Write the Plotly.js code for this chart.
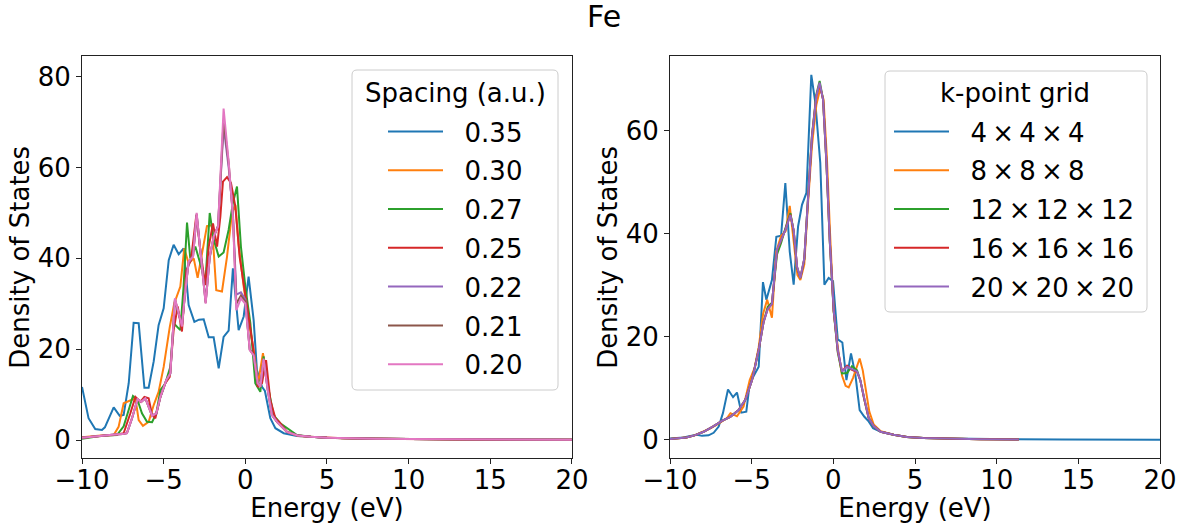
<!DOCTYPE html>
<html>
<head>
<meta charset="utf-8">
<script src="https://cdn.plot.ly/plotly-3.0.1.min.js"></script>
<style>html,body{margin:0;padding:0;background:#fff;}#chart{width:1180px;height:523px;}</style>
</head>
<body>
<div id="chart"></div>
<script>
// ---------- Left panel: grid spacing ----------
const spacingLabels = ["0.35", "0.30", "0.27", "0.25", "0.22", "0.21", "0.20"];

const E_035 = [-10,-9.6,-9.19,-8.78,-8.6,-8.06,-7.69,-7.45,-7.14,-6.84,-6.53,-6.18,-5.92,-5.61,-5.31,-5.0,-4.69,-4.39,-4.08,-3.78,-3.47,-3.12,-2.84,-2.55,-2.24,-1.94,-1.63,-1.33,-1.02,-0.76,-0.41,-0.1,0.2,0.51,0.71,1.02,1.2,1.53,1.84,2.35,3.16,4,5,6,8,10,13,16,20];
const D_035 = [11.7,4.8,2.4,2.2,2.8,7.2,5.3,5.5,12.5,25.8,25.7,11.5,11.5,17.3,25.3,29,39.6,43,40.9,42.2,29.7,26,26.5,26.6,22.6,22.6,15.8,22.7,24.1,37.8,24.2,27.2,36,26.4,15.4,11.7,10.8,4.8,2.6,1.5,0.9,0.65,0.5,0.4,0.3,0.2,0.12,0.08,0.05];

const E_030 = [-10,-9.5,-9,-8.5,-8.06,-7.76,-7.45,-7.04,-6.73,-6.53,-6.27,-5.92,-5.61,-5.31,-5.0,-4.63,-4.35,-3.98,-3.74,-3.47,-3.16,-2.92,-2.65,-2.35,-2.04,-1.78,-1.43,-1.12,-0.82,-0.61,-0.41,-0.1,0.2,0.51,0.78,1.08,1.33,1.63,1.94,2.55,3.27,4,5,6,8,10,13,16,20];
const D_030 = [0.6,0.8,1.0,1.1,1.1,2.9,8.1,8.8,9.2,4.4,3.1,4.0,7.7,10.6,16.1,24.8,30.1,33.8,42.2,38.9,40,35.7,41.1,47.1,47.3,33,32.7,40.4,49.9,51.8,43,33.8,26.4,19.8,12.5,19.1,13.2,6.6,4.0,1.8,0.9,0.7,0.5,0.4,0.3,0.2,0.12,0.08,0.05];

const E_027 = [-10,-9.5,-9,-8.5,-7.86,-7.45,-7.14,-6.88,-6.6,-6.33,-6.02,-5.71,-5.45,-5.2,-4.9,-4.59,-4.39,-4.18,-3.98,-3.78,-3.57,-3.37,-3.06,-2.76,-2.45,-2.18,-1.94,-1.63,-1.33,-1.02,-0.76,-0.51,-0.27,0.0,0.31,0.61,0.92,1.12,1.43,1.73,2.14,3.16,4,5,6,8,10,13,16,20];
const D_027 = [0.3,0.6,0.8,1.0,1.1,3.0,6.6,9.7,8.8,5.9,4.0,3.9,5.9,11,12.5,16.1,25.7,25,24.2,33.8,47.9,40,42.6,38.9,34.5,50,44.2,40.4,41.3,46.3,52.2,55.8,42.6,33.8,25.7,12.5,10.6,18.4,11,5.5,3.7,1.1,0.7,0.5,0.4,0.3,0.2,0.12,0.08,0.05];

const E_025 = [-10,-9.5,-9,-8.5,-8,-7.45,-7.04,-6.73,-6.43,-6.18,-5.92,-5.71,-5.51,-5.2,-4.9,-4.63,-4.39,-4.14,-3.88,-3.61,-3.33,-3.0,-2.76,-2.45,-2.24,-1.98,-1.73,-1.53,-1.37,-1.12,-0.88,-0.61,-0.35,-0.06,0.2,0.47,0.76,1.02,1.27,1.53,1.84,2.14,2.55,3.2,4,5,6,8,10,13,16,20];
const D_025 = [0.5,0.7,0.9,1.0,1.1,1.5,5.9,9.5,8.4,9.5,9.2,5.5,4.8,9.5,12.5,13.9,24.2,29.4,23.9,37.4,39.6,49.5,41.8,34.1,42.6,47.7,42.6,49.2,56.9,57.9,56.6,51.4,40.4,33,26.4,20.6,11.7,12.5,17.6,8.8,4.8,3.7,1.8,1.0,0.7,0.5,0.4,0.3,0.2,0.12,0.08,0.05];

const E_fine = [-10,-9.5,-9,-8.5,-8,-7.5,-7.25,-6.94,-6.6,-6.37,-6.12,-5.92,-5.71,-5.45,-5.2,-4.84,-4.59,-4.31,-4.14,-3.88,-3.67,-3.47,-3.2,-2.98,-2.76,-2.43,-2.18,-1.94,-1.67,-1.33,-1.02,-0.76,-0.55,-0.27,0.0,0.27,0.51,0.76,0.92,1.12,1.37,1.63,1.94,2.55,3.2,4,5,6,8,10,13,16,20];
const D_022 = [0.5,0.7,0.9,1.1,1.2,1.3,1.5,4.7,8.9,8.5,9.1,7.4,5.4,5.8,9.4,13.1,14.6,30.8,28.4,25.2,33.2,39.0,40.6,49.6,42.0,30.4,40.2,44.6,47.2,69.0,60.0,50.0,32.0,32.5,31.0,20.0,18.6,12.6,11.8,17.6,11.2,5.6,4.0,1.8,1.0,0.7,0.5,0.4,0.3,0.2,0.12,0.08,0.05];
const D_021 = [0.5,0.7,0.9,1.1,1.2,1.3,1.5,4.8,9.0,8.4,9.2,7.3,5.3,5.9,9.5,13.2,14.7,31.0,28.5,25.1,33.1,39.2,40.5,49.8,41.9,30.2,40.3,44.7,47.1,70.5,61.0,49.5,30.0,31.8,30.5,19.9,18.7,12.5,11.7,17.8,11.1,5.5,4.0,1.8,1.0,0.7,0.5,0.4,0.3,0.2,0.12,0.08,0.05];
const D_020 = [0.5,0.7,0.9,1.1,1.2,1.3,1.5,4.8,9.0,8.4,9.2,7.3,5.3,5.9,9.5,13.2,14.7,31.2,28.6,25,33,39.3,40.4,50,41.8,30,40.4,44.8,47,73,61.3,49.2,28.6,31.2,30,19.8,18.7,12.5,11.7,17.9,11,5.5,4.0,1.8,1.0,0.7,0.5,0.4,0.3,0.2,0.12,0.08,0.05];

// ---------- Right panel: k-point grid ----------
const kgridLabels = ["4\u2009×\u20094\u2009×\u20094", "8\u2009×\u20098\u2009×\u20098", "12\u2009×\u200912\u2009×\u200912", "16\u2009×\u200916\u2009×\u200916", "20\u2009×\u200920\u2009×\u200920"];

const E_k4 = [-10,-9.17,-8.76,-8.35,-8.04,-7.64,-7.33,-7.02,-6.76,-6.45,-6.14,-5.9,-5.63,-5.33,-5.12,-4.82,-4.57,-4.31,-4.1,-3.76,-3.49,-3.2,-2.94,-2.67,-2.43,-2.16,-1.92,-1.65,-1.35,-1.1,-0.8,-0.55,-0.29,-0.02,0.27,0.55,0.8,1.08,1.35,1.61,1.9,2.16,2.43,2.9,3.69,4.5,5.5,7,9,11,14,17,20];
const D_k4 = [0.3,0.5,0.8,1.0,0.8,0.9,1.4,2.6,5.2,9.8,8.3,9.2,5.3,5.5,11,12.9,14.2,30.6,27.2,31,39.4,39.6,49.8,36.5,30.1,41.4,45.6,47.9,70.8,65.3,53.7,30.1,31.4,30.8,19.5,18.9,11.6,16.8,12.6,5.8,4.5,3.6,2.3,1.6,1.0,0.6,0.4,0.3,0.2,0.15,0.1,0.07,0.05];

const E_k8 = [-10,-9,-8.5,-8,-7.5,-7,-6.5,-6.3,-5.9,-5.5,-5.12,-4.82,-4.57,-4.3,-4.05,-3.76,-3.5,-3.2,-2.92,-2.67,-2.43,-2.2,-2.02,-1.78,-1.57,-1.31,-1.04,-0.8,-0.6,-0.4,-0.2,0.02,0.27,0.53,0.75,0.94,1.2,1.45,1.61,1.8,2.0,2.2,2.47,2.9,3.69,4.5,5.5,7,9,11.35];
const D_k8 = [0.2,0.5,0.9,1.6,2.3,3.2,4.3,5.2,4.6,6.5,11.6,14.0,18.0,24.5,27.2,23.7,36.5,39.6,40.5,45.4,38,32,31,34,45,57,65,68.2,66,55,40,25,18,12.5,10.5,10.2,12,14.5,15.8,13.5,9,5.5,3,1.7,1.0,0.6,0.4,0.25,0.15,0.1];

const E_kfine = [-10,-9.5,-9,-8.5,-7.94,-7.33,-6.82,-6.31,-5.8,-5.39,-4.98,-4.57,-4.27,-4.02,-3.76,-3.45,-3.2,-2.94,-2.63,-2.43,-2.22,-2.02,-1.78,-1.57,-1.31,-1.04,-0.84,-0.63,-0.43,-0.22,0.02,0.27,0.53,0.84,1.14,1.45,1.65,1.9,2.16,2.47,2.9,3.69,4.5,5.5,7,9,11.35];
const D_k12 = [0.2,0.35,0.5,0.9,1.6,2.7,3.7,4.5,5.8,7.8,11.6,17.5,22.9,25.8,26.6,36.0,38.2,41,44.0,40.5,33.4,31.4,35.0,46,59,67,69.6,66,54,38.5,25,17.0,12.9,13.0,14.3,13.5,11.6,7.8,4.3,2.7,1.6,1.0,0.6,0.4,0.25,0.15,0.1];
const D_k16 = [0.2,0.35,0.5,0.9,1.6,2.7,3.7,4.5,5.8,7.8,11.6,17.5,22.9,25.4,26.4,36.7,38.7,40.8,43.7,40.6,33.5,31.4,35.1,45.9,58.9,66.7,69.0,66,54.2,38.7,25.1,17.3,13.3,14.4,13.6,13.2,11.6,7.8,4.3,2.7,1.6,1.0,0.6,0.4,0.25,0.15,0.1];
const D_k20 = [0.2,0.35,0.5,0.9,1.6,2.7,3.7,4.5,5.8,7.8,11.6,17.5,22.9,25.3,26.4,36.9,38.8,40.7,43.6,40.7,33.6,31.4,35.2,45.9,58.8,66.6,69.3,66,54.3,38.8,25.2,17.5,13.3,14.2,13.7,13.3,11.6,7.8,4.3,2.7,1.6,1.0,0.6,0.4,0.25,0.15,0.1];

const palette = ["#1f77b4", "#ff7f0e", "#2ca02c", "#d62728", "#9467bd", "#8c564b", "#e377c2"];

const leftSeries = [
  [E_035, D_035], [E_030, D_030], [E_027, D_027], [E_025, D_025],
  [E_fine, D_022], [E_fine, D_021], [E_fine, D_020]
];
const rightSeries = [
  [E_k4, D_k4], [E_k8, D_k8], [E_kfine, D_k12], [E_kfine, D_k16], [E_kfine, D_k20]
];

const PAD = "\u00a0\u00a0";
const traces = [];
leftSeries.forEach((s, i) => {
  traces.push({
    type: "scatter", mode: "lines", x: s[0], y: s[1], name: PAD + spacingLabels[i],
    xaxis: "x", yaxis: "y", legend: "legend", legendgroup: "L" + i,
    line: {color: palette[i], width: 2}
  });
});
rightSeries.forEach((s, i) => {
  traces.push({
    type: "scatter", mode: "lines", x: s[0], y: s[1], name: PAD + kgridLabels[i],
    xaxis: "x2", yaxis: "y2", legend: "legend2", legendgroup: "R" + i,
    line: {color: palette[i], width: 2}
  });
});

const W = 1180, H = 523;
const px = v => v / W;
const py = v => 1 - v / H;

const axisCommon = {
  showgrid: false, zeroline: false, showline: true, mirror: true,
  linecolor: "#222", linewidth: 1, ticks: "outside", ticklen: 5, tickwidth: 1,
  tickcolor: "#222", tickfont: {size: 26}
};
const xticks = [-10, -5, 0, 5, 10, 15, 20];
const legendCommon = {
  xanchor: "left", yanchor: "top", bgcolor: "rgba(0,0,0,0)",
  borderwidth: 0, font: {size: 26},
  traceorder: "grouped", tracegroupgap: 2, itemwidth: 55
};

// rounded legend frame (paper coords)
function roundBox(x0, y0, x1, y1, r) {
  const rx = r / W, ry = r / H;
  const L = px(x0), R = px(x1), T = py(y0), B = py(y1);
  return "M" + (L + rx) + "," + T + " L" + (R - rx) + "," + T + " Q" + R + "," + T + " " + R + "," + (T - ry) +
    " L" + R + "," + (B + ry) + " Q" + R + "," + B + " " + (R - rx) + "," + B +
    " L" + (L + rx) + "," + B + " Q" + L + "," + B + " " + L + "," + (B + ry) +
    " L" + L + "," + (T - ry) + " Q" + L + "," + T + " " + (L + rx) + "," + T + " Z";
}

const layout = {
  width: W, height: H, autosize: false,
  margin: {l: 0, r: 0, t: 0, b: 0},
  paper_bgcolor: "#fff", plot_bgcolor: "#fff",
  font: {family: "DejaVu Sans", size: 26, color: "#000"},
  title: {text: "Fe", x: 0.512, xanchor: "center", y: 0.969, yanchor: "middle", font: {size: 30}},
  xaxis: Object.assign({}, axisCommon, {domain: [0.0695, 0.4847], range: [-10, 20], tickvals: xticks, anchor: "y",
    ticklabelstandoff: -7, title: {text: "Energy (eV)", font: {size: 26}, standoff: 10}}),
  yaxis: Object.assign({}, axisCommon, {domain: [0.1237, 0.8924], range: [-4.03, 84.5], tickvals: [0, 20, 40, 60, 80], anchor: "x",
    title: {text: "Density of States", font: {size: 26}, standoff: 0}}),
  xaxis2: Object.assign({}, axisCommon, {domain: [0.5678, 0.9831], range: [-10, 20], tickvals: xticks, anchor: "y2",
    ticklabelstandoff: -7, title: {text: "Energy (eV)", font: {size: 26}, standoff: 10}}),
  yaxis2: Object.assign({}, axisCommon, {domain: [0.1237, 0.8924], range: [-3.55, 74.4], tickvals: [0, 20, 40, 60], anchor: "x2",
    title: {text: "Density of States", font: {size: 26}, standoff: 0}}),
  legend: Object.assign({}, legendCommon, {x: px(383), y: py(108)}),
  legend2: Object.assign({}, legendCommon, {x: px(889), y: py(108)}),
  shapes: [
    {type: "path", xref: "paper", yref: "paper", layer: "above", path: roundBox(352, 70, 558, 390, 5),
      fillcolor: "rgba(255,255,255,0.8)", line: {color: "#cccccc", width: 1}},
    {type: "path", xref: "paper", yref: "paper", layer: "above", path: roundBox(885, 71, 1147, 312, 5),
      fillcolor: "rgba(255,255,255,0.8)", line: {color: "#cccccc", width: 1}}
  ],
  annotations: [
    {text: "Spacing (a.u.)", xref: "paper", yref: "paper", x: px(455), y: py(93), xanchor: "center", yanchor: "middle",
      showarrow: false, font: {size: 26}},
    {text: "k-point grid", xref: "paper", yref: "paper", x: px(1015), y: py(93), xanchor: "center", yanchor: "middle",
      showarrow: false, font: {size: 26}}
  ],
  showlegend: true
};

Plotly.newPlot("chart", traces, layout, {displayModeBar: false, staticPlot: true});
</script>
</body>
</html>
